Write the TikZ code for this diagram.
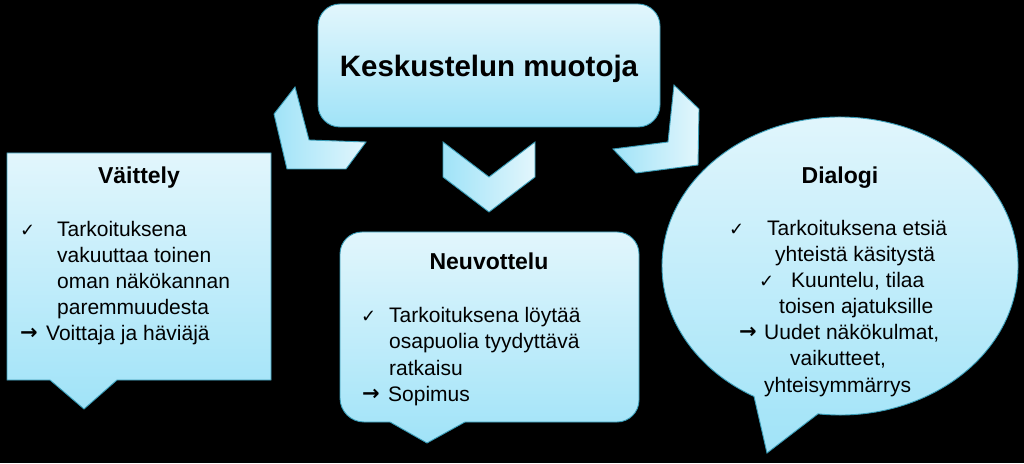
\documentclass[tikz,border=0pt]{standalone}
\usepackage{fontspec}
\setmainfont{Liberation Sans}
\newfontfamily\chkfont{DejaVu Sans}
\definecolor{topc}{HTML}{E2F6FC}
\definecolor{botc}{HTML}{A0E3F8}
\definecolor{edgec}{HTML}{3A9DB8}
\begin{document}
\begin{tikzpicture}[x=1pt,y=1pt,
  shapefill/.style={draw=edgec, line width=0.9pt, top color=topc, bottom color=botc},
  chev/.style={draw=edgec, line width=0.9pt, left color=botc, right color=topc},
  txt/.style={font=\fontsize{21}{25}\selectfont, inner sep=0pt, anchor=base west, text=black},
  head/.style={font=\bfseries\fontsize{23}{27}\selectfont, inner sep=0pt, anchor=base, text=black},
  chk/.style={font=\chkfont\fontsize{18}{20}\selectfont, inner sep=0pt, anchor=base west, text=black},
  arr/.style={font=\chkfont\bfseries\fontsize{21}{25}\selectfont, inner sep=0pt, anchor=base west, text=black},
]
\fill[black] (0,0) rectangle (1024,463);
\useasboundingbox (0,0) rectangle (1024,463);

% title
\node[shapefill, rounded corners=22pt, minimum width=342pt, minimum height=123pt,
      inner sep=0pt, text depth=0pt, font=\bfseries\fontsize{29.5}{34}\selectfont] (title) at (489,397.5) {Keskustelun muotoja};

% chevrons
\path[chev] (295,376) -- (274,349) -- (287,294) -- (346,294) -- (366,321) -- (309,323) -- cycle;
\path[chev] (443,321) -- (489,286) -- (535,321) -- (535,286) -- (489,251) -- (443,286) -- cycle;
\path[chev] (674,378) -- (699,354) -- (698,298) -- (636,290) -- (613,314) -- (668,321) -- cycle;

% Vaittely callout
\path[shapefill] (7,83) -- (7,310) -- (271,310) -- (271,83) -- (117,83) -- (84,54) -- (50,83) -- cycle;

% Neuvottelu callout
\path[shapefill] (340,136) -- (340,209) arc[start angle=180,end angle=90,radius=22pt]
  -- (617,231) arc[start angle=90,end angle=0,radius=22pt]
  -- (639,63) arc[start angle=0,end angle=-90,radius=22pt]
  -- (465,41) -- (427,20) -- (390,41) -- (364,41)
  arc[start angle=270,end angle=180,radius=24pt] -- cycle;

% Dialogi callout
\path[shapefill] (767,10) -- ([shift={(840,197)}]262.9:178 and 149)
  arc[start angle=262.9, end angle=601.1, x radius=178pt, y radius=149pt] -- cycle;

% Vaittely text
\node[head] (vh) at (139,279.5) {Väittely};
\node[chk] (vc1) at (20,226.5) {✓};
\node[txt] (v1) at (57,226.5) {Tarkoituksena};
\node[txt] (v2) at (57,200.5) {vakuuttaa toinen};
\node[txt] (v3) at (57,174.5) {oman näkökannan};
\node[txt] (v4) at (57,148.5) {paremmuudesta};
\node[arr] (va) at (20,123.5) {→};
\node[txt] (v5) at (46,122.5) {Voittaja ja häviäjä};

% Neuvottelu text
\node[head] (nh) at (489,193) {Neuvottelu};
\node[chk] (nc1) at (361,140) {✓};
\node[txt] (n1) at (389,140) {Tarkoituksena löytää};
\node[txt] (n2) at (389,114) {osapuolia tyydyttävä};
\node[txt] (n3) at (389,88) {ratkaisu};
\node[arr] (na) at (362,63) {→};
\node[txt] (n4) at (388,62) {Sopimus};

% Dialogi text
\node[head] (dh) at (840,279.5) {Dialogi};
\node[chk] (dc1) at (729,227) {✓};
\node[txt] (d1) at (767,227) {Tarkoituksena etsiä};
\node[txt] (d2) at (775,201) {yhteistä käsitystä};
\node[chk] (dc2) at (759,175) {✓};
\node[txt] (d3) at (791,175) {Kuuntelu, tilaa};
\node[txt] (d4) at (779,149) {toisen ajatuksille};
\node[arr] (da) at (739,124) {→};
\node[txt] (d5) at (764,123) {Uudet näkökulmat,};
\node[txt] (d6) at (790,97) {vaikutteet,};
\node[txt] (d7) at (764,71) {yhteisymmärrys};
\end{tikzpicture}
\end{document}
